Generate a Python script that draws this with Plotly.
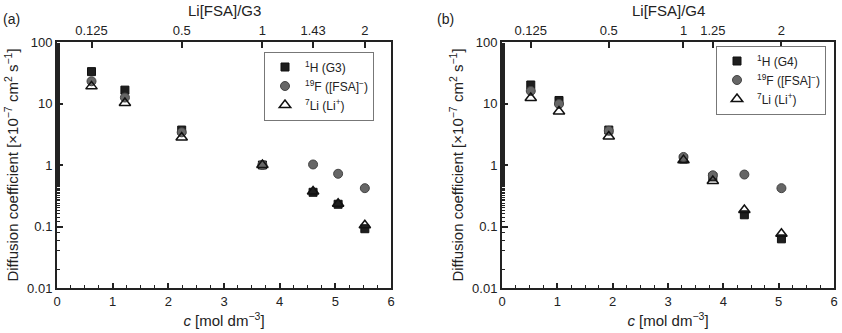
import plotly.graph_objects as go

# ---- data: panel (a) Li[FSA]/G3 ----
c_g3 = [0.62, 1.22, 2.24, 3.69, 4.60, 5.05, 5.53]
h_g3 = [33.0, 16.5, 3.7, 1.0, 0.36, 0.23, 0.092]
f_g3 = [23.0, 12.5, 3.4, 1.0, 1.02, 0.72, 0.42]
li_g3 = [19.0, 10.2, 2.8, 1.0, 0.37, 0.235, 0.105]
top_vals_g3 = [0.62, 2.24, 3.69, 4.60, 5.53]
top_text_g3 = ["0.125", "0.5", "1", "1.43", "2"]

# ---- data: panel (b) Li[FSA]/G4 ----
c_g4 = [0.52, 1.03, 1.93, 3.28, 3.81, 4.38, 5.05]
h_g4 = [20.0, 11.2, 3.7, 1.25, 0.64, 0.155, 0.063]
f_g4 = [16.0, 9.8, 3.6, 1.35, 0.68, 0.70, 0.42]
li_g4 = [12.3, 7.4, 2.9, 1.2, 0.55, 0.185, 0.076]
top_vals_g4 = [0.52, 1.93, 3.28, 3.81, 5.05]
top_text_g4 = ["0.125", "0.5", "1", "1.25", "2"]

y_tickvals = [0.01, 0.1, 1, 10, 100]
y_ticktext = ["0.01", "0.1", "1", "10", "100"]

FONT = "Liberation Sans, Arial, sans-serif"
INK = "#222222"
W, H = 842, 333

def px_x(p):
    return p / W

def px_y(p):
    return 1 - p / H

fig = go.Figure()

def add_panel(c, h, f, li, solvent, xa, ya, legend):
    fig.add_trace(go.Scatter(x=c, y=h, mode="markers", xaxis=xa, yaxis=ya, legend=legend,
                             name="<sup>1</sup>H (" + solvent + ")",
                             marker=dict(symbol="square", size=8, color="#1e1e1e",
                                         line=dict(color="#111", width=1))))
    fig.add_trace(go.Scatter(x=c, y=f, mode="markers", xaxis=xa, yaxis=ya, legend=legend,
                             name="<sup>19</sup>F ([FSA]<sup>−</sup>)",
                             marker=dict(symbol="circle", size=9, color="#666666",
                                         line=dict(color="#444", width=1))))
    fig.add_trace(go.Scatter(x=c, y=li, mode="markers", xaxis=xa, yaxis=ya, legend=legend,
                             name="<sup>7</sup>Li (Li<sup>+</sup>)",
                             marker=dict(symbol="triangle-up-open", size=10, color="#111",
                                         line=dict(color="#111", width=1.5))))

add_panel(c_g3, h_g3, f_g3, li_g3, "G3", "x", "y", "legend")
add_panel(c_g4, h_g4, f_g4, li_g4, "G4", "x3", "y3", "legend2")

# invisible traces to anchor the top axes
fig.add_trace(go.Scatter(x=top_vals_g3, y=[1] * len(top_vals_g3), xaxis="x2", yaxis="y",
                         mode="markers", marker=dict(opacity=0), showlegend=False, hoverinfo="skip"))
fig.add_trace(go.Scatter(x=top_vals_g4, y=[1] * len(top_vals_g4), xaxis="x4", yaxis="y3",
                         mode="markers", marker=dict(opacity=0), showlegend=False, hoverinfo="skip"))

ydom = [px_y(288), px_y(42)]
dom_a = [px_x(57), px_x(391)]
dom_b = [px_x(502), px_x(834)]

def xaxis_bottom(dom, anchor):
    return dict(domain=dom, anchor=anchor, range=[0, 6], dtick=1, tick0=0, automargin=False,
                showline=True, linecolor=INK, linewidth=2, mirror=False,
                ticks="inside", ticklen=5, tickwidth=1.5, tickcolor=INK,
                minor=dict(dtick=0.25, tick0=0, ticks="inside", ticklen=3, tickcolor=INK, tickwidth=1),
                showgrid=False, zeroline=False,
                tickfont=dict(family=FONT, size=13, color=INK),
                title=dict(text="<i>c</i> [mol dm<sup>−3</sup>]", standoff=8,
                           font=dict(family=FONT, size=15, color=INK)))

def xaxis_top(dom, anchor, over, vals, text):
    return dict(domain=dom, anchor=anchor, overlaying=over, side="top", range=[0, 6],
                tickmode="array", tickvals=vals, ticktext=text, automargin=False,
                showline=True, linecolor=INK, linewidth=2,
                ticks="inside", ticklen=6, tickwidth=1.5, tickcolor=INK,
                showgrid=False, zeroline=False,
                tickfont=dict(family=FONT, size=13, color=INK))

def yaxis(anchor):
    return dict(domain=ydom, anchor=anchor, type="log", range=[-2, 2], automargin=False,
                tickmode="array", tickvals=y_tickvals, ticktext=y_ticktext,
                showline=True, linecolor=INK, linewidth=2, mirror=True,
                ticks="inside", ticklen=6, tickwidth=1.5, tickcolor=INK,
                minor=dict(ticks="inside", ticklen=3, tickcolor=INK, tickwidth=1, showgrid=False),
                showgrid=False, zeroline=False,
                tickfont=dict(family=FONT, size=13, color=INK),
                title=dict(text="Diffusion coefficient [×10<sup>−7</sup> cm<sup>2</sup> s<sup>−1</sup>]",
                           standoff=5, font=dict(family=FONT, size=15, color=INK)))

legend_style = dict(bgcolor="rgba(255,255,255,1)", bordercolor="#777", borderwidth=1,
                    font=dict(family=FONT, size=12, color=INK), xanchor="left", yanchor="middle",
                    tracegroupgap=0, itemwidth=30)

fig.update_layout(
    width=W, height=H, margin=dict(l=0, r=0, t=0, b=0),
    paper_bgcolor="white", plot_bgcolor="white",
    font=dict(family=FONT, size=13, color=INK),
    xaxis=xaxis_bottom(dom_a, "y"),
    xaxis2=xaxis_top(dom_a, "y", "x", top_vals_g3, top_text_g3),
    yaxis=yaxis("x"),
    xaxis3=xaxis_bottom(dom_b, "y3"),
    xaxis4=xaxis_top(dom_b, "y3", "x3", top_vals_g4, top_text_g4),
    yaxis3=yaxis("x3"),
    legend=dict(x=px_x(264), y=px_y(86), **legend_style),
    legend2=dict(x=px_x(716), y=px_y(80), **legend_style),
    annotations=[
        dict(text="Li[FSA]/G3", x=(dom_a[0] + dom_a[1]) / 2, y=px_y(0), xref="paper", yref="paper",
             xanchor="center", yanchor="top", showarrow=False, font=dict(family=FONT, size=15, color=INK)),
        dict(text="Li[FSA]/G4", x=(dom_b[0] + dom_b[1]) / 2, y=px_y(0), xref="paper", yref="paper",
             xanchor="center", yanchor="top", showarrow=False, font=dict(family=FONT, size=15, color=INK)),
        dict(text="(a)", x=px_x(1), y=px_y(9), xref="paper", yref="paper",
             xanchor="left", yanchor="top", showarrow=False, font=dict(family=FONT, size=14, color=INK)),
        dict(text="(b)", x=px_x(435), y=px_y(9), xref="paper", yref="paper",
             xanchor="left", yanchor="top", showarrow=False, font=dict(family=FONT, size=14, color=INK)),
    ],
)

fig.write_html(
    "out.html",
    config={"displayModeBar": False},
    post_script="document.body.style.margin='0';document.body.style.overflow='hidden';",
)
